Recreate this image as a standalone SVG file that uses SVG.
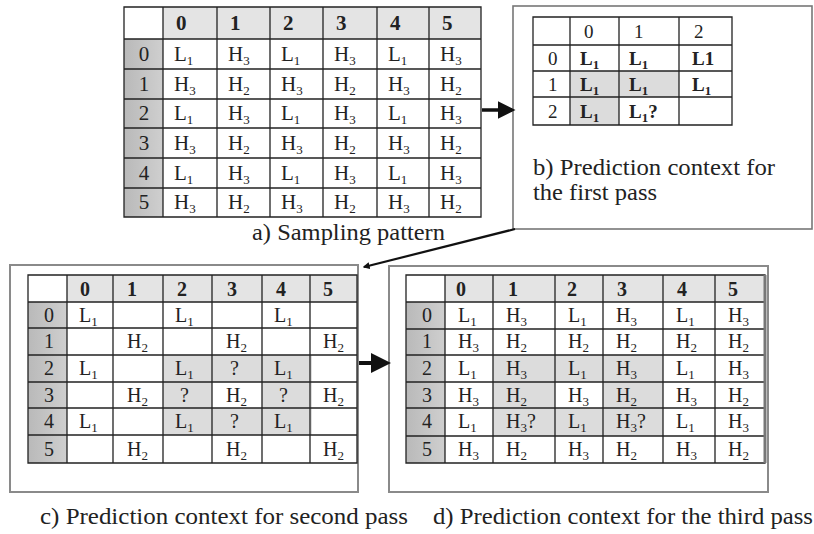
<svg xmlns="http://www.w3.org/2000/svg" width="814" height="534" viewBox="0 0 814 534">
<defs>
<marker id="ah" viewBox="0 0 10 10" refX="8" refY="5" markerWidth="5" markerHeight="5" orient="auto" markerUnits="strokeWidth"><path d="M0,0 L10,5 L0,10 z" fill="#111"/></marker>
<marker id="ah2" viewBox="0 0 10 10" refX="8" refY="5" markerWidth="3.2" markerHeight="3.2" orient="auto" markerUnits="strokeWidth"><path d="M0,0 L10,5 L0,10 z" fill="#111"/></marker>
<linearGradient id="lg" x1="0" y1="0" x2="1" y2="0"><stop offset="0" stop-color="#b9b9b9"/><stop offset="1" stop-color="#cfcfcf"/></linearGradient>
</defs>
<style>
text{font-family:"Liberation Serif","Times New Roman",serif;fill:#222}
.ta{font-size:21px}
.tb{font-size:19px}
.tc{font-size:20px}
.bd{font-weight:bold}
.mid{text-anchor:middle}
.s{font-size:13px}
.cap{font-size:23px}
.grid{fill:none;stroke:#222;stroke-width:1.3}
.hdr{fill:#e4e4e4}
.lab{fill:url(#lg)}
.gc{fill:#dcdcdc}
.box{fill:none;stroke:#8a8a8a;stroke-width:2}
</style>
<rect width="814" height="534" fill="#fff"/>

<g id="panel-a">
<rect class="hdr" x="163" y="7" width="318" height="32"/>
<rect class="lab" x="124" y="39" width="39" height="178"/>
<path class="grid" d="M124,7H481V217H124Z M124,39H481 M124,69H481 M124,99H481 M124,128H481 M124,158H481 M124,188H481 M163,7V217 M217,7V217 M270,7V217 M323,7V217 M377,7V217 M429,7V217"/>
<g class="ta bd">
<text x="176" y="30">0</text><text x="230" y="30">1</text><text x="283" y="30">2</text><text x="336" y="30">3</text><text x="390" y="30">4</text><text x="442" y="30">5</text>
</g>
<g class="ta mid">
<text x="144" y="61">0</text><text x="144" y="91">1</text><text x="144" y="120">2</text><text x="144" y="150">3</text><text x="144" y="180">4</text><text x="144" y="209">5</text>
</g>
<g class="ta">
<text x="174" y="61">L<tspan class="s" dy="4">1</tspan></text><text x="228" y="61">H<tspan class="s" dy="4">3</tspan></text><text x="281" y="61">L<tspan class="s" dy="4">1</tspan></text><text x="334" y="61">H<tspan class="s" dy="4">3</tspan></text><text x="388" y="61">L<tspan class="s" dy="4">1</tspan></text><text x="440" y="61">H<tspan class="s" dy="4">3</tspan></text>
<text x="174" y="91">H<tspan class="s" dy="4">3</tspan></text><text x="228" y="91">H<tspan class="s" dy="4">2</tspan></text><text x="281" y="91">H<tspan class="s" dy="4">3</tspan></text><text x="334" y="91">H<tspan class="s" dy="4">2</tspan></text><text x="388" y="91">H<tspan class="s" dy="4">3</tspan></text><text x="440" y="91">H<tspan class="s" dy="4">2</tspan></text>
<text x="174" y="120">L<tspan class="s" dy="4">1</tspan></text><text x="228" y="120">H<tspan class="s" dy="4">3</tspan></text><text x="281" y="120">L<tspan class="s" dy="4">1</tspan></text><text x="334" y="120">H<tspan class="s" dy="4">3</tspan></text><text x="388" y="120">L<tspan class="s" dy="4">1</tspan></text><text x="440" y="120">H<tspan class="s" dy="4">3</tspan></text>
<text x="174" y="150">H<tspan class="s" dy="4">3</tspan></text><text x="228" y="150">H<tspan class="s" dy="4">2</tspan></text><text x="281" y="150">H<tspan class="s" dy="4">3</tspan></text><text x="334" y="150">H<tspan class="s" dy="4">2</tspan></text><text x="388" y="150">H<tspan class="s" dy="4">3</tspan></text><text x="440" y="150">H<tspan class="s" dy="4">2</tspan></text>
<text x="174" y="180">L<tspan class="s" dy="4">1</tspan></text><text x="228" y="180">H<tspan class="s" dy="4">3</tspan></text><text x="281" y="180">L<tspan class="s" dy="4">1</tspan></text><text x="334" y="180">H<tspan class="s" dy="4">3</tspan></text><text x="388" y="180">L<tspan class="s" dy="4">1</tspan></text><text x="440" y="180">H<tspan class="s" dy="4">3</tspan></text>
<text x="174" y="209">H<tspan class="s" dy="4">3</tspan></text><text x="228" y="209">H<tspan class="s" dy="4">2</tspan></text><text x="281" y="209">H<tspan class="s" dy="4">3</tspan></text><text x="334" y="209">H<tspan class="s" dy="4">2</tspan></text><text x="388" y="209">H<tspan class="s" dy="4">3</tspan></text><text x="440" y="209">H<tspan class="s" dy="4">2</tspan></text>
</g>
<text class="cap" x="252" y="240" textLength="193" lengthAdjust="spacingAndGlyphs">a) Sampling pattern</text>
</g>

<g id="panel-b">
<rect x="513" y="6" width="299" height="223" fill="#fff" stroke="#777" stroke-width="1.6"/>
<rect class="gc" x="570" y="71" width="109" height="26"/>
<rect class="gc" x="570" y="97" width="49" height="28"/>
<path class="grid" d="M533,17H732V125H533Z M533,45H732 M533,71H732 M533,97H732 M570,17V125 M619,17V125 M679,17V125"/>
<g class="tb">
<text x="584" y="38">0</text><text x="634" y="38">1</text><text x="694" y="38">2</text>
<text x="548" y="65">0</text><text x="548" y="91">1</text><text x="548" y="118">2</text>
</g>
<g class="tb bd">
<text x="580" y="65">L<tspan class="s" dy="4">1</tspan></text><text x="629" y="65">L<tspan class="s" dy="4">1</tspan></text><text x="692" y="65">L1</text>
<text x="580" y="91">L<tspan class="s" dy="4">1</tspan></text><text x="629" y="91">L<tspan class="s" dy="4">1</tspan></text><text x="692" y="91">L<tspan class="s" dy="4">1</tspan></text>
<text x="580" y="118">L<tspan class="s" dy="4">1</tspan></text><text x="629" y="118">L<tspan class="s" dy="4">1</tspan><tspan dy="-4">?</tspan></text>
</g>
<text class="cap" x="533" y="175" textLength="242" lengthAdjust="spacingAndGlyphs">b) Prediction context for</text>
<text class="cap" x="533" y="200" textLength="124" lengthAdjust="spacingAndGlyphs">the first pass</text>
</g>

<g id="panel-c">
<rect class="box" x="10" y="265" width="348" height="227"/>
<rect class="hdr" x="67" y="275" width="290" height="27"/>
<rect class="lab" x="28" y="302" width="39" height="161"/>
<rect class="gc" x="163" y="355" width="149" height="80"/>
<rect fill="#fff" x="212" y="382" width="50" height="26"/>
<path class="grid" d="M28,275H357V463H28Z M28,302H357 M28,328H357 M28,355H357 M28,382H357 M28,408H357 M28,435H357 M67,275V463 M113,275V463 M163,275V463 M212,275V463 M262,275V463 M310,275V463"/>
<g class="tc bd">
<text x="80" y="296">0</text><text x="127" y="296">1</text><text x="177" y="296">2</text><text x="227" y="296">3</text><text x="276" y="296">4</text><text x="323" y="296">5</text>
</g>
<g class="tc mid">
<text x="49" y="322">0</text><text x="49" y="348">1</text><text x="49" y="375">2</text><text x="49" y="402">3</text><text x="49" y="428">4</text><text x="49" y="456">5</text>
</g>
<g class="tc">
<text x="79" y="322">L<tspan class="s" dy="4">1</tspan></text><text x="175" y="322">L<tspan class="s" dy="4">1</tspan></text><text x="274" y="322">L<tspan class="s" dy="4">1</tspan></text>
<text x="127" y="348">H<tspan class="s" dy="4">2</tspan></text><text x="226" y="348">H<tspan class="s" dy="4">2</tspan></text><text x="323" y="348">H<tspan class="s" dy="4">2</tspan></text>
<text x="79" y="375">L<tspan class="s" dy="4">1</tspan></text><text x="175" y="375">L<tspan class="s" dy="4">1</tspan></text><text x="230" y="375">?</text><text x="274" y="375">L<tspan class="s" dy="4">1</tspan></text>
<text x="127" y="402">H<tspan class="s" dy="4">2</tspan></text><text x="180" y="402">?</text><text x="226" y="402">H<tspan class="s" dy="4">2</tspan></text><text x="279" y="402">?</text><text x="323" y="402">H<tspan class="s" dy="4">2</tspan></text>
<text x="79" y="428">L<tspan class="s" dy="4">1</tspan></text><text x="175" y="428">L<tspan class="s" dy="4">1</tspan></text><text x="230" y="428">?</text><text x="274" y="428">L<tspan class="s" dy="4">1</tspan></text>
<text x="127" y="456">H<tspan class="s" dy="4">2</tspan></text><text x="226" y="456">H<tspan class="s" dy="4">2</tspan></text><text x="323" y="456">H<tspan class="s" dy="4">2</tspan></text>
</g>
<text class="cap" x="40" y="524" textLength="368" lengthAdjust="spacingAndGlyphs">c)  Prediction context for second pass</text>
</g>

<g id="panel-d">
<rect class="box" x="389" y="266" width="379" height="226"/>
<rect class="hdr" x="445" y="275" width="320" height="27"/>
<rect class="lab" x="406" y="302" width="39" height="161"/>
<rect class="gc" x="493" y="355" width="170" height="81"/>
<rect fill="#fff" x="555" y="382" width="48" height="26"/>
<path class="grid" d="M406,275H765V463H406Z M406,302H765 M406,329H765 M406,355H765 M406,382H765 M406,408H765 M406,436H765 M445,275V463 M493,275V463 M555,275V463 M603,275V463 M663,275V463 M715,275V463"/>
<line x1="765" y1="275" x2="765" y2="463" stroke="#777" stroke-width="3"/>
<g class="tc bd">
<text x="456" y="296">0</text><text x="508" y="296">1</text><text x="567" y="296">2</text><text x="617" y="296">3</text><text x="677" y="296">4</text><text x="728" y="296">5</text>
</g>
<g class="tc mid">
<text x="427" y="322">0</text><text x="427" y="348">1</text><text x="427" y="375">2</text><text x="427" y="402">3</text><text x="427" y="428">4</text><text x="427" y="456">5</text>
</g>
<g class="tc">
<text x="458" y="322">L<tspan class="s" dy="4">1</tspan></text><text x="506" y="322">H<tspan class="s" dy="4">3</tspan></text><text x="568" y="322">L<tspan class="s" dy="4">1</tspan></text><text x="616" y="322">H<tspan class="s" dy="4">3</tspan></text><text x="676" y="322">L<tspan class="s" dy="4">1</tspan></text><text x="728" y="322">H<tspan class="s" dy="4">3</tspan></text>
<text x="458" y="348">H<tspan class="s" dy="4">3</tspan></text><text x="506" y="348">H<tspan class="s" dy="4">2</tspan></text><text x="568" y="348">H<tspan class="s" dy="4">2</tspan></text><text x="616" y="348">H<tspan class="s" dy="4">2</tspan></text><text x="676" y="348">H<tspan class="s" dy="4">2</tspan></text><text x="728" y="348">H<tspan class="s" dy="4">2</tspan></text>
<text x="458" y="375">L<tspan class="s" dy="4">1</tspan></text><text x="506" y="375">H<tspan class="s" dy="4">3</tspan></text><text x="568" y="375">L<tspan class="s" dy="4">1</tspan></text><text x="616" y="375">H<tspan class="s" dy="4">3</tspan></text><text x="676" y="375">L<tspan class="s" dy="4">1</tspan></text><text x="728" y="375">H<tspan class="s" dy="4">3</tspan></text>
<text x="458" y="402">H<tspan class="s" dy="4">3</tspan></text><text x="506" y="402">H<tspan class="s" dy="4">2</tspan></text><text x="568" y="402">H<tspan class="s" dy="4">3</tspan></text><text x="616" y="402">H<tspan class="s" dy="4">2</tspan></text><text x="676" y="402">H<tspan class="s" dy="4">3</tspan></text><text x="728" y="402">H<tspan class="s" dy="4">2</tspan></text>
<text x="458" y="428">L<tspan class="s" dy="4">1</tspan></text><text x="506" y="428">H<tspan class="s" dy="4">3</tspan><tspan dy="-4">?</tspan></text><text x="568" y="428">L<tspan class="s" dy="4">1</tspan></text><text x="616" y="428">H<tspan class="s" dy="4">3</tspan><tspan dy="-4">?</tspan></text><text x="676" y="428">L<tspan class="s" dy="4">1</tspan></text><text x="728" y="428">H<tspan class="s" dy="4">3</tspan></text>
<text x="458" y="456">H<tspan class="s" dy="4">3</tspan></text><text x="506" y="456">H<tspan class="s" dy="4">2</tspan></text><text x="568" y="456">H<tspan class="s" dy="4">3</tspan></text><text x="616" y="456">H<tspan class="s" dy="4">2</tspan></text><text x="676" y="456">H<tspan class="s" dy="4">3</tspan></text><text x="728" y="456">H<tspan class="s" dy="4">2</tspan></text>
</g>
<text class="cap" x="433" y="524" textLength="380" lengthAdjust="spacingAndGlyphs">d) Prediction context for the third pass</text>
</g>

<g id="connectors" fill="none" stroke="#111">
<line x1="482" y1="110" x2="512" y2="110" stroke-width="3.5" marker-end="url(#ah)"/>
<line x1="515" y1="229" x2="364" y2="267" stroke-width="2.2" marker-end="url(#ah2)"/>
<line x1="359" y1="363" x2="387" y2="363" stroke-width="4" marker-end="url(#ah)"/>
</g>
</svg>
